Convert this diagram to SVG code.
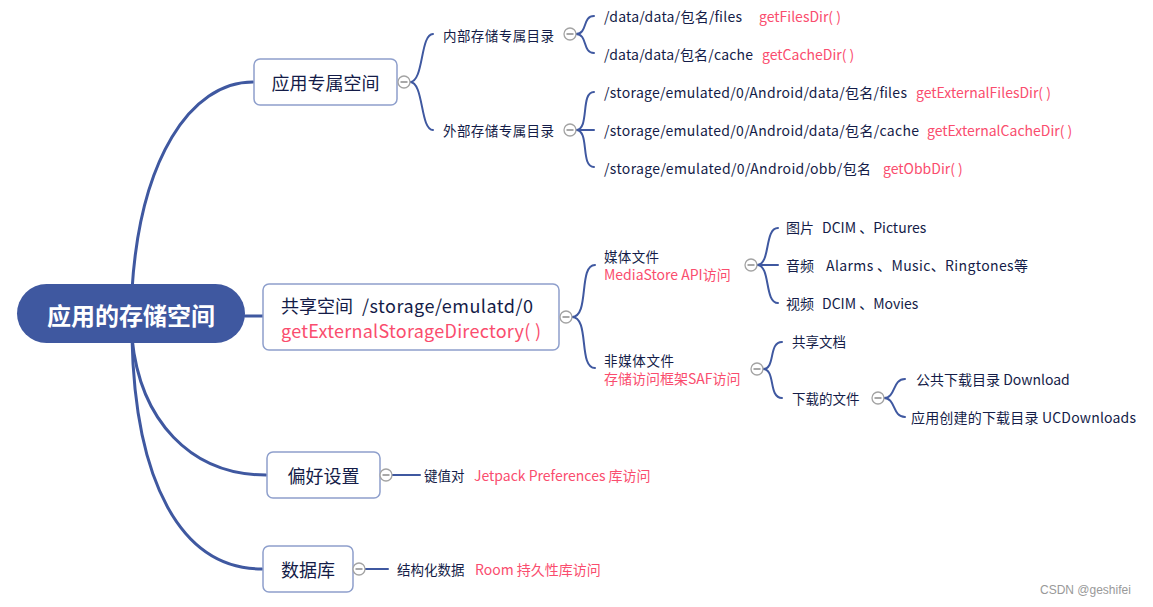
<svg xmlns="http://www.w3.org/2000/svg" width="1153" height="607" viewBox="0 0 1153 607">
<style>
text{font-family:"Noto Sans CJK SC","Microsoft YaHei",sans-serif;dominant-baseline:central;fill:#141c48}
.red{fill:#fa4d6e}
.t1{font-size:18px}
.t2{font-size:13.5px}
.t3{font-size:14px}
.box{fill:#fff;stroke:#8e9fcc;stroke-width:1.5}
.c1{fill:none;stroke:#3f58a0;stroke-width:3;stroke-linecap:round}
.c2{fill:none;stroke:#3f58a0;stroke-width:2;stroke-linecap:round}
.tog circle{fill:#fff;stroke:#a3a3a3;stroke-width:1.3}
.tog line{stroke:#a8a8a8;stroke-width:2}
</style>
<defs>
<g id="tg" class="tog"><circle cx="0" cy="0" r="6"/><line x1="-3.5" y1="0" x2="3.5" y2="0"/></g>
</defs>
<rect width="1153" height="607" fill="#fff"/>
<g id="connectors">
<path class="c1" d="M132 290 C140 160 190 82 253 82"/>
<path class="c1" d="M245 316 L263 316"/>
<path class="c1" d="M132 338 C140 420 190 475 266 475"/>
<path class="c1" d="M132 338 C135 480 180 569 262 569"/>
<path class="c2" d="M410 82 C424 82 420 34 433 34"/>
<path class="c2" d="M410 82 C424 82 420 130 433 130"/>
<path class="c2" d="M576 34 C588 34 582 16 594 16"/>
<path class="c2" d="M576 34 C588 34 582 53 594 53"/>
<path class="c2" d="M576 130 C590 130 580 92 594 92"/>
<path class="c2" d="M576 130 L594 130"/>
<path class="c2" d="M576 130 C590 130 580 167 594 167"/>
<path class="c2" d="M572 317 C590 317 578 265 595 265"/>
<path class="c2" d="M572 317 C590 317 578 368 595 368"/>
<path class="c2" d="M757 265 C771 265 764 228 778 228"/>
<path class="c2" d="M757 265 L778 265"/>
<path class="c2" d="M757 265 C771 265 764 303 778 303"/>
<path class="c2" d="M763 369 C776 369 768 342 782 342"/>
<path class="c2" d="M763 369 C776 369 768 398 782 398"/>
<path class="c2" d="M884 398 C896 398 892 379 905 379"/>
<path class="c2" d="M884 398 C896 398 892 417 905 417"/>
<path class="c2" d="M392 475 L420 475"/>
<path class="c2" d="M365 569 L388 569"/>
</g>
<g id="root">
<rect x="17" y="284" width="228" height="59" rx="29.5" fill="#3f58a0"/>
<text x="131" y="314" text-anchor="middle" style="font-size:24px;font-weight:bold;fill:#fff">应用的存储空间</text>
</g>
<g id="node-private">
<rect class="box" x="254" y="59" width="143" height="46" rx="6"/>
<text class="t1" x="325.5" y="82" text-anchor="middle">应用专属空间</text>
<use href="#tg" x="404" y="82"/>
</g>
<g id="node-internal">
<text class="t2" x="443" y="35" textLength="111" lengthAdjust="spacing">内部存储专属目录</text>
<use href="#tg" x="570" y="34"/>
</g>
<g id="node-files">
<text class="t3" x="604" y="16" textLength="138" lengthAdjust="spacing">/data/data/包名/files</text>
<text class="t3 red" x="759" y="16">getFilesDir( )</text>
</g>
<g id="node-cache">
<text class="t3" x="604" y="54" textLength="149" lengthAdjust="spacing">/data/data/包名/cache</text>
<text class="t3 red" x="762" y="54">getCacheDir( )</text>
</g>
<g id="node-external">
<text class="t2" x="443" y="130" textLength="111" lengthAdjust="spacing">外部存储专属目录</text>
<use href="#tg" x="570" y="130"/>
</g>
<g id="node-extfiles">
<text class="t3" x="604" y="92" textLength="303" lengthAdjust="spacing">/storage/emulated/0/Android/data/包名/files</text>
<text class="t3 red" x="916" y="92">getExternalFilesDir( )</text>
</g>
<g id="node-extcache">
<text class="t3" x="604" y="130" textLength="315" lengthAdjust="spacing">/storage/emulated/0/Android/data/包名/cache</text>
<text class="t3 red" x="927" y="130">getExternalCacheDir( )</text>
</g>
<g id="node-obb">
<text class="t3" x="604" y="168" textLength="267" lengthAdjust="spacing">/storage/emulated/0/Android/obb/包名</text>
<text class="t3 red" x="883" y="168">getObbDir( )</text>
</g>
<g id="node-shared">
<rect class="box" x="263" y="284" width="296" height="66" rx="6"/>
<text class="t1" x="281" y="305">共享空间</text>
<text class="t1" x="362" y="305" textLength="171" lengthAdjust="spacing">/storage/emulatd/0</text>
<text class="t1 red" x="281" y="330" textLength="260" lengthAdjust="spacing">getExternalStorageDirectory( )</text>
<use href="#tg" x="566" y="317"/>
</g>
<g id="node-media">
<text class="t2" x="604" y="256" textLength="55" lengthAdjust="spacing">媒体文件</text>
<text class="t3 red" x="604" y="274">MediaStore API访问</text>
<use href="#tg" x="751" y="265"/>
</g>
<g id="node-pictures">
<text class="t3" x="786" y="227">图片</text>
<text class="t3" x="822" y="227">DCIM 、Pictures</text>
</g>
<g id="node-audio">
<text class="t3" x="786" y="265">音频</text>
<text class="t3" x="826" y="265" textLength="202" lengthAdjust="spacing">Alarms 、Music、Ringtones等</text>
</g>
<g id="node-video">
<text class="t3" x="786" y="303">视频</text>
<text class="t3" x="822" y="303">DCIM 、Movies</text>
</g>
<g id="node-nonmedia">
<text class="t2" x="604" y="360" textLength="70" lengthAdjust="spacing">非媒体文件</text>
<text class="t3 red" x="604" y="378">存储访问框架SAF访问</text>
<use href="#tg" x="757" y="369"/>
</g>
<g id="node-docs">
<text class="t2" x="792" y="341">共享文档</text>
</g>
<g id="node-downloads">
<text class="t2" x="792" y="398">下载的文件</text>
<use href="#tg" x="878" y="398"/>
</g>
<g id="node-download">
<text class="t3" x="916" y="379">公共下载目录 Download</text>
</g>
<g id="node-ucdownloads">
<text class="t3" x="911" y="417" textLength="225" lengthAdjust="spacing">应用创建的下载目录 UCDownloads</text>
</g>
<g id="node-prefs">
<rect class="box" x="267" y="452" width="113" height="46" rx="6"/>
<text class="t1" x="323.5" y="475" text-anchor="middle">偏好设置</text>
<use href="#tg" x="386" y="475"/>
</g>
<g id="node-kv">
<text class="t2" x="424" y="475">键值对</text>
<text class="t3 red" x="474" y="475">Jetpack Preferences 库访问</text>
</g>
<g id="node-db">
<rect class="box" x="263" y="546" width="90" height="46" rx="6"/>
<text class="t1" x="308" y="569" text-anchor="middle">数据库</text>
<use href="#tg" x="359" y="569"/>
</g>
<g id="node-struct">
<text class="t2" x="397" y="569">结构化数据</text>
<text class="t3 red" x="475" y="569">Room 持久性库访问</text>
</g>
<text x="1040" y="590" style="font-size:12px;fill:#999;font-family:'Liberation Sans',sans-serif">CSDN @geshifei</text>
</svg>
